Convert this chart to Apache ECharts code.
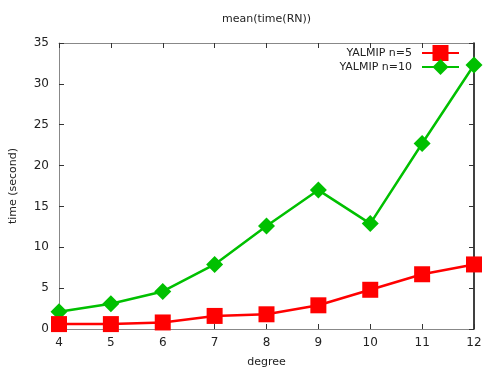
<!DOCTYPE html>
<html><head><meta charset="utf-8">
<script src="https://cdn.jsdelivr.net/npm/echarts@6/dist/echarts.min.js"></script>
<style>html,body{margin:0;padding:0;background:#fff}#c{width:498px;height:374px}</style>
</head><body><div id="c"></div>
<script>
const degrees = [4, 5, 6, 7, 8, 9, 10, 11, 12];
const yalmipN5 = [0.6, 0.6, 0.8, 1.6, 1.8, 2.9, 4.8, 6.7, 7.9];
const yalmipN10 = [2.1, 3.1, 4.6, 7.9, 12.6, 17.0, 12.9, 22.7, 32.3];
const seriesNames = ['YALMIP n=5', 'YALMIP n=10'];
const titleText = 'mean(time(RN))';
const xName = 'degree';
const yName = 'time (second)';

const font = 'DejaVu Sans';
const chart = echarts.init(document.getElementById('c'));
const tickStyle = {show: true, inside: true, length: 5, lineStyle: {color: '#333', width: 1}};
chart.setOption({
  animation: false,
  title: {text: titleText, left: 217, top: 9, textStyle: {fontFamily: font, fontSize: 11, fontWeight: 'normal', color: '#222'}},
  legend: {
    data: seriesNames, orient: 'vertical', right: 38, top: 45, align: 'right', padding: 0,
    itemWidth: 37, itemHeight: 20, itemGap: -2,
    textStyle: {fontFamily: font, fontSize: 11, color: '#222', padding: [0, 5, 0, 0]}
  },
  grid: {left: 57, right: 24, top: 43, bottom: 45},
  xAxis: [{
    type: 'value', min: 4, max: 12, interval: 1,
    name: xName, nameLocation: 'middle', nameGap: 28,
    nameTextStyle: {fontFamily: font, fontSize: 11, color: '#222'},
    axisLine: {show: true, lineStyle: {color: '#888', width: 1}},
    axisTick: tickStyle, splitLine: {show: false},
    axisLabel: {fontFamily: font, fontSize: 12, color: '#222', margin: 8}
  }, {
    type: 'value', position: 'top', min: 4, max: 12, interval: 1,
    axisLine: {show: true, onZero: false, lineStyle: {color: '#888', width: 1}},
    axisTick: tickStyle, splitLine: {show: false}, axisLabel: {show: false}
  }],
  yAxis: [{
    type: 'value', min: 0, max: 35, interval: 5,
    name: yName, nameLocation: 'middle', nameGap: 40,
    nameTextStyle: {fontFamily: font, fontSize: 11, color: '#222'},
    axisLine: {show: true, lineStyle: {color: '#888', width: 1}},
    axisTick: tickStyle, splitLine: {show: false},
    axisLabel: {fontFamily: font, fontSize: 12, color: '#222', margin: 10}
  }, {
    type: 'value', position: 'right', min: 0, max: 35, interval: 5,
    axisLine: {show: true, onZero: false, lineStyle: {color: '#000', width: 1.5}},
    axisTick: tickStyle, splitLine: {show: false}, axisLabel: {show: false}
  }],
  series: [{
    name: seriesNames[0], type: 'line', data: degrees.map((d, i) => [d, yalmipN5[i]]),
    symbol: 'rect', symbolSize: 16, clip: false,
    itemStyle: {color: '#ff0000'}, lineStyle: {color: '#ff0000', width: 2.5}, z: 3
  }, {
    name: seriesNames[1], type: 'line', data: degrees.map((d, i) => [d, yalmipN10[i]]),
    symbol: 'diamond', symbolSize: 17, clip: false,
    itemStyle: {color: '#00c000'}, lineStyle: {color: '#00c000', width: 2.5}, z: 2
  }]
});
</script></body></html>
